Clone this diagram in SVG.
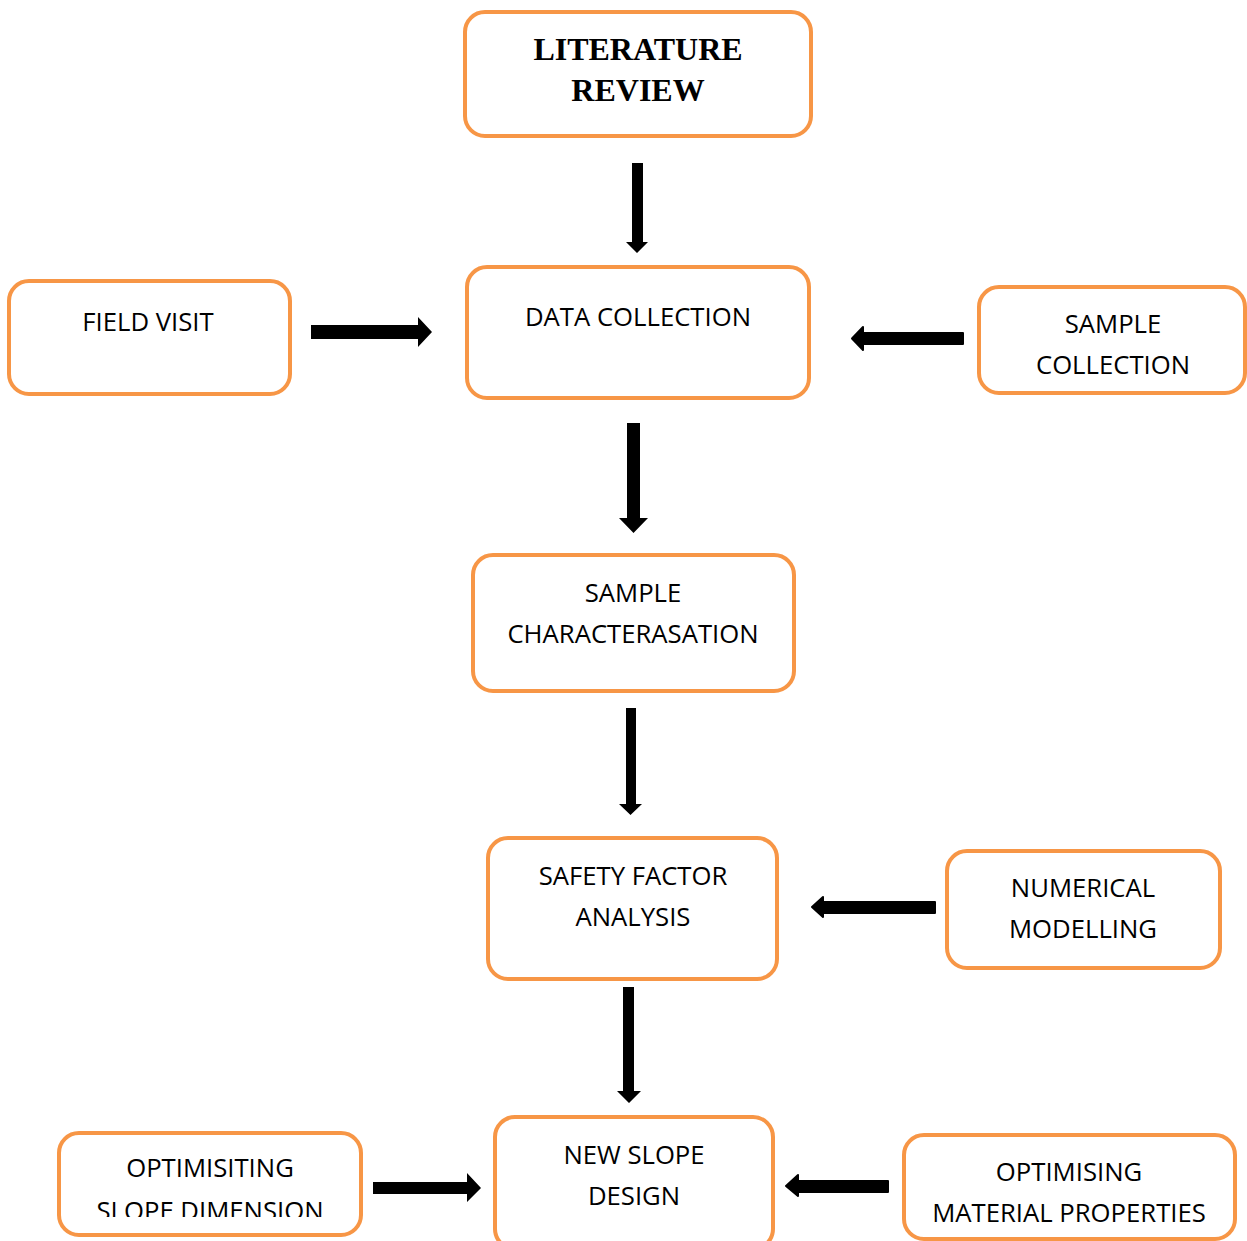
<svg xmlns="http://www.w3.org/2000/svg" width="1247" height="1241" viewBox="0 0 1247 1241">
<style>
.box{fill:#ffffff;stroke:#F79646;stroke-width:4}
.t{font-family:"Open Sans","Liberation Sans",sans-serif;font-size:25.7px;fill:#000;text-anchor:middle}
.tb{font-family:"Liberation Serif","Times New Roman",serif;font-size:32px;font-weight:bold;fill:#000;text-anchor:middle}
.arr{fill:#000}
.arrR{fill:#000;stroke:#000;stroke-width:2;stroke-linejoin:round}
</style>
<defs>
<clipPath id="clipOpt"><rect x="0" y="0" width="1247" height="1217"/></clipPath>
</defs>
<rect width="1247" height="1241" fill="#ffffff"/>
<g id="literature-review">
<rect class="box" x="465" y="12" width="346" height="124" rx="20"/>
<text class="tb" x="638" y="60">LITERATURE</text>
<text class="tb" x="638" y="101">REVIEW</text>
</g>
<g id="field-visit">
<rect class="box" x="9" y="281" width="281" height="113" rx="20"/>
<text class="t" x="148" y="331">FIELD VISIT</text>
</g>
<g id="data-collection">
<rect class="box" x="467" y="267" width="342" height="131" rx="20"/>
<text class="t" x="638" y="326">DATA COLLECTION</text>
</g>
<g id="sample-collection">
<rect class="box" x="979" y="287" width="266" height="106" rx="20"/>
<text class="t" x="1113" y="333">SAMPLE</text>
<text class="t" x="1113" y="374">COLLECTION</text>
</g>
<g id="sample-characterisation">
<rect class="box" x="473" y="555" width="321" height="136" rx="20"/>
<text class="t" x="633" y="602">SAMPLE</text>
<text class="t" x="633" y="643">CHARACTERASATION</text>
</g>
<g id="safety-factor-analysis">
<rect class="box" x="488" y="838" width="289" height="141" rx="20"/>
<text class="t" x="633" y="885">SAFETY FACTOR</text>
<text class="t" x="633" y="926">ANALYSIS</text>
</g>
<g id="numerical-modelling">
<rect class="box" x="947" y="851" width="273" height="117" rx="20"/>
<text class="t" x="1083" y="897">NUMERICAL</text>
<text class="t" x="1083" y="938">MODELLING</text>
</g>
<g id="new-slope-design">
<rect class="box" x="495" y="1117" width="278" height="132" rx="20"/>
<text class="t" x="634" y="1164">NEW SLOPE</text>
<text class="t" x="634" y="1205">DESIGN</text>
</g>
<g id="optimising-slope-dimension">
<rect class="box" x="59" y="1133" width="302" height="102" rx="20"/>
<text class="t" x="210" y="1177">OPTIMISITING</text>
<text class="t" x="210" y="1220" clip-path="url(#clipOpt)">SLOPE DIMENSION</text>
</g>
<g id="optimising-material-properties">
<rect class="box" x="904" y="1135" width="331" height="104" rx="20"/>
<text class="t" x="1069" y="1181">OPTIMISING</text>
<text class="t" x="1069" y="1222">MATERIAL PROPERTIES</text>
</g>
<g id="connectors">
<path class="arr" d="M632,163 H643 V242 H648 L637,253 L626,242 H632 Z"/>
<path class="arr" d="M311,325 H418 V317 L432,332 L418,347 V339 H311 Z"/>
<path class="arrR" d="M963,333 V344 H863 V350 L852,338.5 L863,327 V333 Z"/>
<path class="arr" d="M627,423 H640 V518 H648 L633.5,533 L619,518 H627 Z"/>
<path class="arr" d="M626,708 H636 V804 H642 L630.5,815 L619,804 H626 Z"/>
<path class="arrR" d="M935,902 V913 H823 V917 L812,907 L823,897 V902 Z"/>
<path class="arr" d="M623,987 H634 V1091 H641 L629,1103 L617,1091 H623 Z"/>
<path class="arr" d="M373,1182 H467 V1173 L481,1188 L467,1202 V1194 H373 Z"/>
<path class="arrR" d="M888,1181 V1192 H798 V1196 L786,1186 L798,1175 V1181 Z"/>
</g>
</svg>
